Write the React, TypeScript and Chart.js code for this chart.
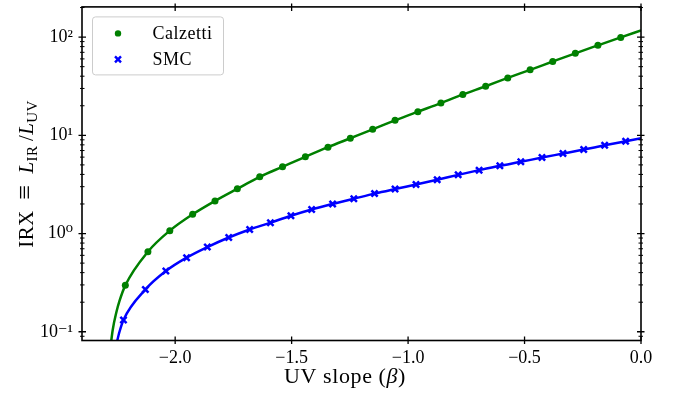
import React, { useRef, useEffect } from 'react'
import { Chart, registerables, ChartConfiguration, Plugin } from 'chart.js'

Chart.register(...registerables)

// markers (UV slope beta, IRX)
const calzettiBeta = [-2.214, -2.117, -2.023, -1.925, -1.829, -1.733, -1.637, -1.539, -1.441, -1.344, -1.248, -1.152, -1.056, -0.958, -0.859, -0.765, -0.667, -0.572, -0.476, -0.379, -0.282, -0.185, -0.087]
const calzettiIrx = [0.297, 0.653, 1.07, 1.57, 2.15, 2.86, 3.78, 4.78, 6.04, 7.57, 9.33, 11.5, 14.2, 17.4, 21.3, 26.1, 31.6, 38.4, 46.4, 56.4, 68.4, 82.4, 99.3]

const smcBeta = [-2.222, -2.128, -2.040, -1.951, -1.862, -1.770, -1.680, -1.591, -1.503, -1.414, -1.324, -1.233, -1.144, -1.056, -0.966, -0.875, -0.785, -0.695, -0.606, -0.516, -0.425, -0.335, -0.246, -0.156, -0.066]
const smcIrx = [0.132, 0.269, 0.415, 0.568, 0.728, 0.912, 1.10, 1.29, 1.52, 1.76, 2.00, 2.26, 2.55, 2.84, 3.16, 3.53, 3.96, 4.42, 4.90, 5.37, 5.94, 6.52, 7.16, 7.92, 8.71]

// extra points of the solid curves (steep bottom part and right end)
const calzettiLineHeadBeta = [-2.283, -2.268, -2.253, -2.239]
const calzettiLineHeadIrx = [0.055, 0.105, 0.156, 0.206]
const calzettiLineEnd = { beta: 0.0, irx: 117 }

const smcLineHeadBeta = [-2.254, -2.239]
const smcLineHeadIrx = [0.072, 0.10]
const smcLineEnd = { beta: 0.0, irx: 9.33 }

const xTicks = [-2.0, -1.5, -1.0, -0.5, 0.0]
const xTickLabels = ['\u22122.0', '\u22121.5', '\u22121.0', '\u22120.5', '0.0']
const yTicks = [0.1, 1, 10, 100]
const yTickLabels = ['10\u207B\u00B9', '10\u2070', '10\u00B9', '10\u00B2']

const FONT = '"Liberation Serif", "DejaVu Serif", serif'
const GREEN = '#008000'
const BLUE = '#0000ff'

const pts = (xs: number[], ys: number[]) => xs.map((x, i) => ({ x, y: ys[i] }))

const calzettiLine = [
    ...pts(calzettiLineHeadBeta, calzettiLineHeadIrx),
    ...pts(calzettiBeta, calzettiIrx),
    { x: calzettiLineEnd.beta, y: calzettiLineEnd.irx },
]
const smcLine = [
    ...pts(smcLineHeadBeta, smcLineHeadIrx),
    ...pts(smcBeta, smcIrx),
    { x: smcLineEnd.beta, y: smcLineEnd.irx },
]

// spines + inout ticks on all four sides, like matplotlib
const axesPlugin: Plugin<'line'> = {
    id: 'mplAxes',
    afterDraw(chart) {
        const { ctx, chartArea: a } = chart
        const xs = chart.scales.x
        const ys = chart.scales.y
        ctx.save()
        ctx.strokeStyle = '#000'
        ctx.lineWidth = 1.6
        ctx.strokeRect(a.left, a.top, a.right - a.left, a.bottom - a.top)

        ctx.lineWidth = 1.3
        ctx.beginPath()
        const seg = (x0: number, y0: number, x1: number, y1: number) => {
            ctx.moveTo(x0, y0)
            ctx.lineTo(x1, y1)
        }
        for (const v of xTicks) {
            const px = xs.getPixelForValue(v)
            seg(px, a.bottom - 4, px, a.bottom + 3.5)
            seg(px, a.top - 3.5, px, a.top + 4)
        }
        for (const v of yTicks) {
            const py = ys.getPixelForValue(v)
            seg(a.left - 3.5, py, a.left + 4, py)
            seg(a.right - 4, py, a.right + 3.5, py)
        }
        ctx.stroke()

        ctx.lineWidth = 1
        ctx.beginPath()
        for (let d = -2; d <= 2; d++) {
            for (let k = 2; k <= 9; k++) {
                const v = k * Math.pow(10, d)
                if (v < (ys.min as number) || v > (ys.max as number)) continue
                const py = ys.getPixelForValue(v)
                seg(a.left - 2, py, a.left + 2.5, py)
                seg(a.right - 2.5, py, a.right + 2, py)
            }
        }
        ctx.stroke()
        ctx.restore()
    },
}

// axis titles with italic / subscript parts
type Piece = { t: string; italic?: boolean; sub?: boolean; size?: number }

const titlesPlugin: Plugin<'line'> = {
    id: 'mplTitles',
    afterDraw(chart) {
        const { ctx } = chart
        const big = 21
        const small = 15
        const fontOf = (p: Piece) => `${p.italic ? 'italic ' : ''}${p.size ?? (p.sub ? small : big)}px ${FONT}`
        const drawPieces = (pieces: Piece[], cx: number, base: number, spacing: string) => {
            ;(ctx as any).letterSpacing = spacing
            let w = 0
            for (const p of pieces) {
                ctx.font = fontOf(p)
                w += ctx.measureText(p.t).width
            }
            let x = cx - w / 2
            for (const p of pieces) {
                ctx.font = fontOf(p)
                ctx.fillText(p.t, x, base + (p.sub ? 4 : 0))
                x += ctx.measureText(p.t).width
            }
            ;(ctx as any).letterSpacing = '0px'
        }
        ctx.save()
        ctx.fillStyle = '#000'
        ctx.textBaseline = 'alphabetic'
        drawPieces([{ t: 'UV slope (', size: 22 }, { t: '\u03B2', italic: true, size: 22 }, { t: ')', size: 22 }], 345, 383, '0.6px')

        ctx.translate(33, 174)
        ctx.rotate(-Math.PI / 2)
        drawPieces([
            { t: 'IRX\u2002' },
            { t: '\u2261', size: 26 },
            { t: '\u2002' },
            { t: 'L', italic: true },
            { t: 'IR', sub: true },
            { t: '\u2009/' },
            { t: 'L', italic: true },
            { t: 'UV', sub: true },
        ], 0, 0, '0.4px')
        ctx.restore()
    },
}

// legend box in the upper left, markers only
const legendPlugin: Plugin<'line'> = {
    id: 'mplLegend',
    afterDraw(chart) {
        const { ctx, chartArea: a } = chart
        const bx = a.left + 10.5
        const by = a.top + 10
        const bw = 131
        const bh = 58
        ctx.save()
        ctx.fillStyle = 'rgba(255,255,255,0.8)'
        ctx.strokeStyle = '#cccccc'
        ctx.lineWidth = 1
        ctx.beginPath()
        ctx.roundRect(bx, by, bw, bh, 3)
        ctx.fill()
        ctx.stroke()

        const markers = chart.data.datasets.filter((d: any) => d.showLine === false)
        markers.forEach((d: any, i: number) => {
            const my = by + 16.5 + i * 26
            const mx = bx + 25.5
            if (d.pointStyle === 'circle') {
                ctx.fillStyle = d.backgroundColor
                ctx.beginPath()
                ctx.arc(mx, my, 3.2, 0, Math.PI * 2)
                ctx.fill()
            } else {
                ctx.strokeStyle = d.borderColor
                ctx.lineWidth = 2.4
                ctx.beginPath()
                ctx.moveTo(mx - 3, my - 3)
                ctx.lineTo(mx + 3, my + 3)
                ctx.moveTo(mx + 3, my - 3)
                ctx.lineTo(mx - 3, my + 3)
                ctx.stroke()
            }
            ctx.fillStyle = '#000'
            ctx.font = `18px ${FONT}`
            ;(ctx as any).letterSpacing = '0.5px'
            ctx.textBaseline = 'alphabetic'
            ctx.fillText(d.label, bx + 60, my + 5.5)
            ;(ctx as any).letterSpacing = '0px'
        })
        ctx.restore()
    },
}

export default function App() {
    const canvasRef = useRef<HTMLCanvasElement | null>(null)
    const chartRef = useRef<Chart<'line'> | null>(null)

    useEffect(() => {
        document.body.style.margin = '0'
        if (!canvasRef.current) return

        const config: ChartConfiguration<'line'> = {
            type: 'line',
            data: {
                datasets: [
                    {
                        label: 'Calzetti',
                        data: pts(calzettiBeta, calzettiIrx),
                        showLine: false,
                        pointStyle: 'circle',
                        pointRadius: 3.5,
                        pointBackgroundColor: GREEN,
                        pointBorderWidth: 0,
                        backgroundColor: GREEN,
                        borderColor: GREEN,
                        order: 1,
                        clip: 0,
                    } as any,
                    {
                        label: 'SMC',
                        data: pts(smcBeta, smcIrx),
                        showLine: false,
                        pointStyle: 'crossRot',
                        pointRadius: 4.4,
                        pointBorderWidth: 2.5,
                        pointBorderColor: BLUE,
                        backgroundColor: BLUE,
                        borderColor: BLUE,
                        order: 1,
                        clip: 0,
                    } as any,
                    {
                        label: 'calzetti-curve',
                        data: calzettiLine,
                        borderColor: GREEN,
                        borderWidth: 2.5,
                        pointRadius: 0,
                        cubicInterpolationMode: 'monotone',
                        order: 2,
                        clip: 0,
                    } as any,
                    {
                        label: 'smc-curve',
                        data: smcLine,
                        borderColor: BLUE,
                        borderWidth: 2.5,
                        pointRadius: 0,
                        cubicInterpolationMode: 'monotone',
                        order: 2,
                        clip: 0,
                    } as any,
                ],
            },
            options: {
                animation: false,
                responsive: false,
                events: [],
                layout: { padding: { top: 5, right: 35, left: 0, bottom: 0 } },
                plugins: {
                    legend: { display: false },
                    tooltip: { enabled: false },
                    title: { display: false },
                },
                scales: {
                    x: {
                        type: 'linear',
                        min: -2.4,
                        max: 0.0,
                        grid: { display: false, drawTicks: false },
                        border: { display: false },
                        afterFit: (scale: any) => {
                            scale.height = 60.5
                            scale.paddingLeft = 0
                            scale.paddingRight = 0
                        },
                        afterBuildTicks: (scale: any) => { scale.ticks = xTicks.map(v => ({ value: v })) },
                        ticks: {
                            autoSkip: false,
                            maxRotation: 0,
                            padding: 7,
                            color: '#000',
                            font: { family: FONT, size: 18 },
                            callback: (value: any) => xTickLabels[xTicks.indexOf(Number(value))],
                        },
                    },
                    y: {
                        type: 'logarithmic',
                        min: 0.0815,
                        max: 203,
                        grid: { display: false, drawTicks: false },
                        border: { display: false },
                        afterFit: (scale: any) => {
                            scale.width = 82
                            scale.paddingTop = 0
                            scale.paddingBottom = 0
                        },
                        afterBuildTicks: (scale: any) => { scale.ticks = yTicks.map(v => ({ value: v })) },
                        ticks: {
                            autoSkip: false,
                            padding: 9,
                            color: '#000',
                            font: { family: FONT, size: 18 },
                            callback: (value: any) => yTickLabels[yTicks.indexOf(Number(value))],
                        },
                    },
                },
            },
            plugins: [axesPlugin, titlesPlugin, legendPlugin],
        }

        chartRef.current = new Chart(canvasRef.current, config)

        return () => {
            chartRef.current?.destroy()
        }
    }, [])

    return (
        <div style={{ width: 676, height: 401 }}>
            <canvas ref={canvasRef} width={676} height={401} />
        </div>
    )
}
